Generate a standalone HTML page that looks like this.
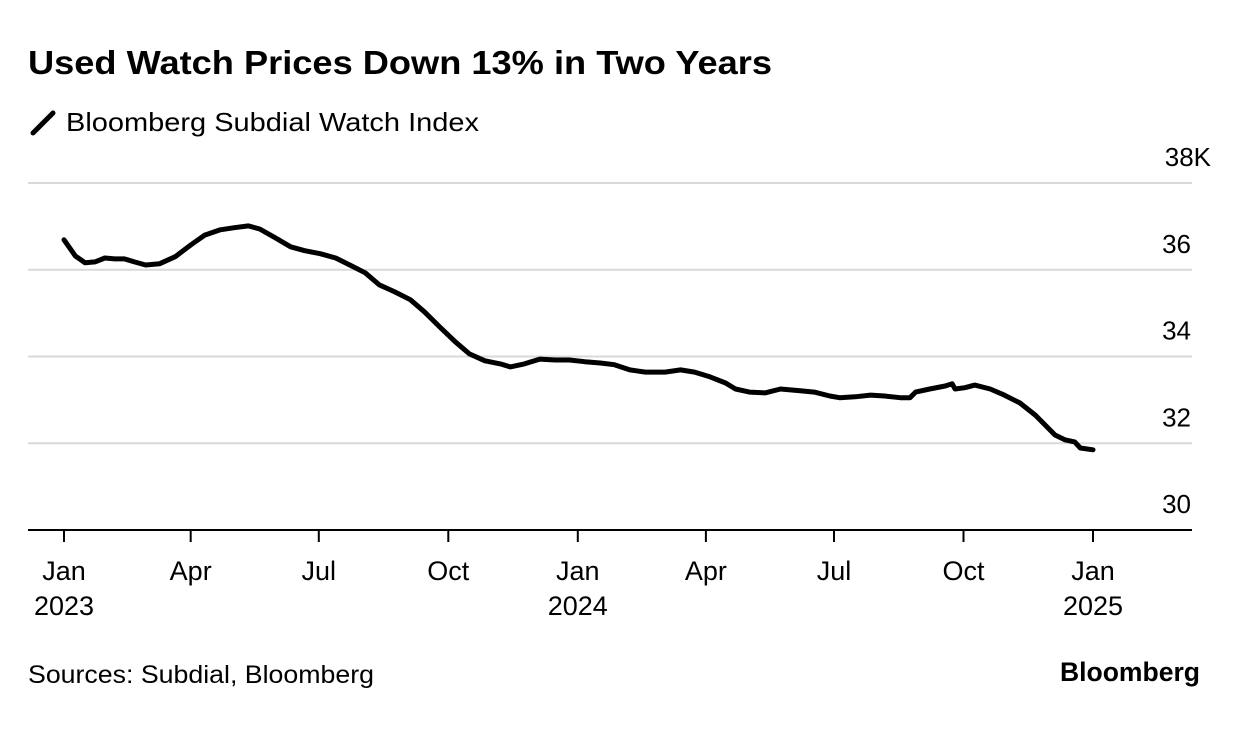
<!DOCTYPE html>
<html><head><meta charset="utf-8"><style>
body{margin:0;background:#fff;font-family:"Liberation Sans",sans-serif;color:#000}
svg{display:block}
</style></head><body>
<svg width="1240" height="732">
<text x="28" y="74" font-size="33" font-weight="bold" textLength="744" lengthAdjust="spacingAndGlyphs">Used Watch Prices Down 13% in Two Years</text>
<g>
<line x1="33" y1="133" x2="53" y2="113" stroke="#000" stroke-width="5" stroke-linecap="round"/>
<text x="66" y="131" font-size="26" textLength="413" lengthAdjust="spacingAndGlyphs">Bloomberg Subdial Watch Index</text>
</g>
<g id="grid"></g><g id="xaxis"></g>
<path id="line" fill="none" stroke="#000" stroke-width="5" stroke-linejoin="round" stroke-linecap="round"/>
<text x="28" y="683" font-size="25" textLength="346" lengthAdjust="spacingAndGlyphs">Sources: Subdial, Bloomberg</text>
<text x="1060" y="681" font-size="27" font-weight="bold" textLength="140" lengthAdjust="spacingAndGlyphs">Bloomberg</text>
</svg>
<script>
const days=[0,8,15,22,29,36,43,50,58,68,79,90,100,111,121,131,139,150,161,171,182,193,203,214,224,235,246,256,267,278,288,299,310,317,327,338,349,359,370,381,391,402,413,427,438,448,459,470,477,487,498,509,523,533,544,551,562,573,583,594,601,605,615,626,631,633,640,647,658,668,679,690,697,704,711,718,722,731];
const values=[36.69,36.32,36.16,36.18,36.27,36.25,36.25,36.18,36.11,36.14,36.30,36.57,36.80,36.92,36.97,37.01,36.94,36.74,36.53,36.44,36.37,36.27,36.11,35.93,35.65,35.49,35.31,35.03,34.68,34.34,34.06,33.90,33.83,33.76,33.83,33.94,33.92,33.92,33.88,33.85,33.81,33.69,33.64,33.64,33.69,33.64,33.53,33.39,33.25,33.18,33.16,33.25,33.21,33.18,33.09,33.05,33.07,33.11,33.09,33.05,33.05,33.18,33.25,33.32,33.37,33.25,33.28,33.34,33.25,33.11,32.93,32.65,32.42,32.19,32.08,32.03,31.89,31.85];
const yTicks=[30,32,34,36,38];
const yTickLabels=["30","32","34","36","38K"];
const xTickDays=[0,90,181,273,365,456,547,639,731];
const xTickLabels=[["Jan","2023"],["Apr",""],["Jul",""],["Oct",""],["Jan","2024"],["Apr",""],["Jul",""],["Oct",""],["Jan","2025"]];
const NS="http://www.w3.org/2000/svg";
const X=d=>64+d*(1093-64)/731;
const Y=v=>530-(v-30)*(530-183)/8;
const grid=document.getElementById('grid');
yTicks.forEach((t,i)=>{
  const l=document.createElementNS(NS,'line');
  l.setAttribute('x1',28);l.setAttribute('x2',1192);
  l.setAttribute('y1',Y(t));l.setAttribute('y2',Y(t));
  l.setAttribute('stroke',i==0?'#000':'#d9d9d9');l.setAttribute('stroke-width',2);
  
  
  grid.appendChild(l);
  const tx=document.createElementNS(NS,'text');
  tx.setAttribute('x',i==4?1211:1191);tx.setAttribute('y',Y(t)-17);
  tx.setAttribute('text-anchor','end');tx.setAttribute('font-size','26');
  tx.textContent=yTickLabels[i];
  
  
  grid.appendChild(tx);
});
const xa=document.getElementById('xaxis');
xTickDays.forEach((d,i)=>{
  const l=document.createElementNS(NS,'line');
  l.setAttribute('x1',X(d));l.setAttribute('x2',X(d));l.setAttribute('y1',530);l.setAttribute('y2',542);
  l.setAttribute('stroke','#000');l.setAttribute('stroke-width',2);
  
  
  xa.appendChild(l);
  xTickLabels[i].forEach((s,j)=>{
    if(!s)return;
    const tx=document.createElementNS(NS,'text');
    tx.setAttribute('x',X(d));tx.setAttribute('y',580+j*35);
    tx.setAttribute('text-anchor','middle');tx.setAttribute('font-size','27');
    tx.textContent=s;
    
    
    xa.appendChild(tx);
  });
});
document.getElementById('line').setAttribute('d',days.map((d,i)=>(i?'L':'M')+X(d).toFixed(1)+','+Y(values[i]).toFixed(1)).join(''));
</script>
</body></html>
